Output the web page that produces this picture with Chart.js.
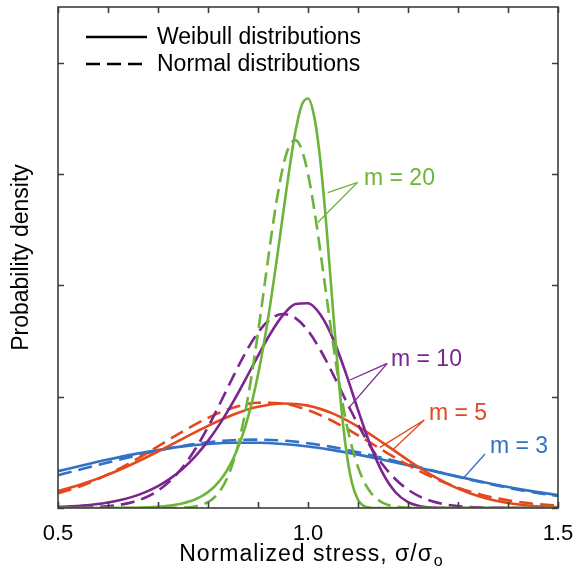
<!DOCTYPE html>
<html lang="en">
<head>
<meta charset="UTF-8">
<title>Weibull and normal strength distributions</title>
<script src="https://cdn.jsdelivr.net/npm/chart.js"></script>
<style>
  html, body { margin: 0; padding: 0; background: #fff; }
  #wrap { width: 576px; height: 575px; }
</style>
</head>
<body>
<div id="wrap"><canvas id="pdfChart" width="576" height="575"></canvas></div>
<script>
// normalized stress grids (sigma / sigma_o)
const stressCoarse = [0.50, 0.55, 0.60, 0.65, 0.70, 0.75, 0.80, 0.85, 0.90, 0.95, 1.00,
                      1.05, 1.10, 1.15, 1.20, 1.25, 1.30, 1.35, 1.40, 1.45, 1.50];
const stressMid = [0.500, 0.525, 0.550, 0.575, 0.600, 0.625, 0.650, 0.675, 0.700, 0.725,
                   0.750, 0.775, 0.800, 0.825, 0.850, 0.875, 0.900, 0.925, 0.950, 0.975,
                   1.000, 1.025, 1.050, 1.075, 1.100, 1.125, 1.150, 1.175, 1.200, 1.225,
                   1.250, 1.275, 1.300, 1.325, 1.350, 1.375, 1.400, 1.425, 1.450, 1.475, 1.500];
const stressFine = [0.50, 0.60, 0.65,
                    0.7000, 0.7125, 0.7250, 0.7375, 0.7500, 0.7625, 0.7750, 0.7875, 0.8000, 0.8125,
                    0.8250, 0.8375, 0.8500, 0.8625, 0.8750, 0.8875, 0.9000, 0.9125, 0.9250, 0.9375,
                    0.9500, 0.9625, 0.9750, 0.9875, 1.0000, 1.0125, 1.0250, 1.0375, 1.0500, 1.0625,
                    1.0750, 1.0875, 1.1000, 1.1125, 1.1250, 1.1375, 1.1500, 1.1625, 1.1750, 1.1875, 1.2000,
                    1.25, 1.30, 1.40, 1.50];

// probability density, m = 3 (on stressCoarse)
const weibull3 = [0.6619, 0.7684, 0.8702, 0.9632, 1.0431, 1.1067, 1.1507, 1.1728, 1.1723, 1.1488, 1.1036,
                  1.0392, 0.9590, 0.8669, 0.7672, 0.6647, 0.5633, 0.4670, 0.3781, 0.2992, 0.2310];
const normal3 = [0.5905, 0.7033, 0.8178, 0.9286, 1.0299, 1.1153, 1.1796, 1.2183, 1.2287, 1.2102, 1.1640,
                 1.0933, 1.0029, 0.8984, 0.7858, 0.6713, 0.5601, 0.4562, 0.3629, 0.2819, 0.2140];

// m = 5 (on stressCoarse)
const weibull5 = [0.3029, 0.4351, 0.5995, 0.7948, 1.0148, 1.2479, 1.4758, 1.6748, 1.8176, 1.8785, 1.8394,
                  1.6961, 1.4624, 1.1702, 0.8611, 0.5772, 0.3486, 0.1875, 0.0887, 0.0364, 0.0127];
const normal5 = [0.2626, 0.4097, 0.6038, 0.8411, 1.1074, 1.3777, 1.6198, 1.7998, 1.8899, 1.8754, 1.7588,
                 1.5587, 1.3055, 1.0333, 0.7729, 0.5464, 0.3650, 0.2305, 0.1375, 0.0775, 0.0413];

// m = 10 (on stressMid)
const weibull10 = [0.0195, 0.0302, 0.0459, 0.0684, 0.1002, 0.1442, 0.2044, 0.2852, 0.3923, 0.5317,
                   0.7097, 0.9328, 1.2055, 1.5297, 1.9022, 2.3111, 2.7338, 3.1342, 3.4632, 3.6634,
                   3.6788, 3.4720, 3.0430, 2.4411, 1.7623, 1.1222, 0.6156, 0.2830, 0.1056, 0.0308,
                   0.0067, 0.0010, 0.0001, 0, 0, 0, 0, 0, 0, 0, 0];
const normal10 = [0.0015, 0.0034, 0.0075, 0.0157, 0.0313, 0.0598, 0.1089, 0.1890, 0.3127, 0.4933,
                  0.7419, 1.0636, 1.4540, 1.8952, 2.3550, 2.7901, 3.1517, 3.3943, 3.4852, 3.4118,
                  3.1844, 2.8336, 2.4041, 1.9447, 1.4997, 1.1027, 0.7730, 0.5166, 0.3292, 0.2000,
                  0.1159, 0.0640, 0.0337, 0.0169, 0.0081, 0.0037, 0.0016, 0.0007, 0.0003, 0.0001, 0];

// m = 20 (on stressFine)
const weibull20 = [0, 0.0012, 0.0056,
                   0.0228, 0.0319, 0.0443, 0.0613, 0.0843, 0.1153, 0.1567, 0.2119, 0.2849, 0.3810,
                   0.5062, 0.6687, 0.8773, 1.1426, 1.4760, 1.8893, 2.3924, 2.9916, 3.6847, 4.4568,
                   5.2735, 6.0736, 6.7666, 7.2368, 7.3576, 7.0268, 6.2108, 4.9883, 3.5588, 2.1940,
                   1.1297, 0.4661, 0.1465, 0.0330, 0.0049, 0.0005, 0, 0, 0, 0, 0,
                   0, 0, 0, 0];
const normal20 = [0, 0, 0,
                  0.0002, 0.0006, 0.0014, 0.0032, 0.0069, 0.0146, 0.0295, 0.0571, 0.1059, 0.1881,
                  0.3200, 0.5214, 0.8141, 1.2176, 1.7445, 2.3943, 3.1485, 3.9663, 4.7862, 5.5336,
                  6.1286, 6.5024, 6.6094, 6.4358, 6.0036, 5.3652, 4.5932, 3.7672, 2.9598, 2.2280,
                  1.6065, 1.1097, 0.7344, 0.4656, 0.2828, 0.1645, 0.0917, 0.0490, 0.0250, 0.0123, 0.0058,
                  0.0002, 0, 0, 0];

const GREEN = '#6cb43a';
const PURPLE = '#7a2590';
const RED = '#e4481f';
const BLUE = '#3271c4';
const FONT = '"Liberation Sans", Arial, Helvetica, sans-serif';
const DASH = [14, 7];

function pts(xs, ys) {
  return xs.map((x, i) => ({ x: x, y: ys[i] }));
}

function curve(label, xs, ys, color, dashed) {
  return {
    label: label,
    data: pts(xs, ys),
    borderColor: color,
    borderWidth: 2.6,
    borderDash: dashed ? DASH : [],
    pointRadius: 0,
    fill: false,
    cubicInterpolationMode: 'monotone'
  };
}

// leader-line labels, positions in data units
const notes = [
  { text: 'm = 20', color: GREEN, at: [1.112, 5.92], apex: [1.0994, 5.851], ends: [[1.0394, 5.664], [1.0194, 5.130]] },
  { text: 'm = 10', color: PURPLE, at: [1.166, 2.664], apex: [1.1586, 2.599], ends: [[1.084, 2.299], [1.0806, 1.791]] },
  { text: 'm = 5', color: RED, at: [1.242, 1.689], apex: [1.2326, 1.581], ends: [[1.144, 1.090], [1.1706, 1.054]] },
  { text: 'm = 3', color: BLUE, at: [1.364, 1.096], apex: [1.354, 0.970], ends: [[1.3106, 0.534]] }
];

const legendItems = [
  { text: 'Weibull distributions', dash: [] },
  { text: 'Normal distributions', dash: DASH }
];

const decorPlugin = {
  id: 'decor',
  afterDatasetsDraw(chart) {
    const { ctx, chartArea: a, scales } = chart;
    const x = scales.x, y = scales.y;
    ctx.save();

    // axes box with inward ticks
    ctx.strokeStyle = '#3d3d3d';
    ctx.lineWidth = 1.6;
    ctx.setLineDash([]);
    ctx.strokeRect(a.left, a.top, a.right - a.left, a.bottom - a.top);
    ctx.beginPath();
    x.ticks.forEach(t => {
      const px = Math.round(x.getPixelForValue(t.value)) + 0.5;
      ctx.moveTo(px, a.bottom); ctx.lineTo(px, a.bottom - 6);
      ctx.moveTo(px, a.top); ctx.lineTo(px, a.top + 6);
    });
    y.ticks.forEach(t => {
      if (t.value % 2 !== 0) return;
      const py = Math.round(y.getPixelForValue(t.value)) + 0.5;
      ctx.moveTo(a.left, py); ctx.lineTo(a.left + 6, py);
      ctx.moveTo(a.right, py); ctx.lineTo(a.right - 6, py);
    });
    ctx.stroke();

    // legend
    ctx.font = '23px ' + FONT;
    ctx.textBaseline = 'middle';
    ctx.textAlign = 'left';
    legendItems.forEach((item, i) => {
      const ly = a.top + 30 + i * 27;
      ctx.strokeStyle = '#000';
      ctx.lineWidth = 2.6;
      ctx.setLineDash(item.dash);
      ctx.beginPath();
      ctx.moveTo(a.left + 28, ly);
      ctx.lineTo(a.left + 89, ly);
      ctx.stroke();
      ctx.fillStyle = '#000';
      ctx.fillText(item.text, a.left + 99, ly + 1);
    });
    ctx.setLineDash([]);

    // curve labels with leader lines
    notes.forEach(n => {
      const ax = x.getPixelForValue(n.apex[0]), ay = y.getPixelForValue(n.apex[1]);
      ctx.strokeStyle = n.color;
      ctx.lineWidth = 1.3;
      ctx.beginPath();
      n.ends.forEach(e => {
        ctx.moveTo(ax, ay);
        ctx.lineTo(x.getPixelForValue(e[0]), y.getPixelForValue(e[1]));
      });
      ctx.stroke();
      ctx.fillStyle = n.color;
      ctx.fillText(n.text, x.getPixelForValue(n.at[0]), y.getPixelForValue(n.at[1]));
    });

    // x axis title with subscript
    const main = 'Normalized stress, \u03c3/\u03c3';
    ctx.letterSpacing = '1px';
    ctx.font = '23px ' + FONT;
    const w1 = ctx.measureText(main).width;
    ctx.font = '16px ' + FONT;
    const w2 = ctx.measureText('o').width;
    const tx = (a.left + a.right) / 2 - (w1 + w2) / 2 + 3;
    const ty = a.bottom + 53;
    ctx.fillStyle = '#000';
    ctx.textBaseline = 'alphabetic';
    ctx.font = '23px ' + FONT;
    ctx.fillText(main, tx, ty);
    ctx.font = '16px ' + FONT;
    ctx.fillText('o', tx + w1 + 1, ty + 5);
    ctx.letterSpacing = '0px';

    ctx.restore();
  }
};

new Chart(document.getElementById('pdfChart').getContext('2d'), {
  type: 'line',
  data: {
    datasets: [
      curve('Weibull, m = 20', stressFine, weibull20, GREEN, false),
      curve('Normal, m = 20', stressFine, normal20, GREEN, true),
      curve('Weibull, m = 10', stressMid, weibull10, PURPLE, false),
      curve('Normal, m = 10', stressMid, normal10, PURPLE, true),
      curve('Weibull, m = 5', stressCoarse, weibull5, RED, false),
      curve('Normal, m = 5', stressCoarse, normal5, RED, true),
      curve('Weibull, m = 3', stressCoarse, weibull3, BLUE, false),
      curve('Normal, m = 3', stressCoarse, normal3, BLUE, true)
    ]
  },
  options: {
    responsive: false,
    animation: false,
    devicePixelRatio: 1,
    layout: { padding: { top: 7, right: 18, left: 0, bottom: 0 } },
    plugins: {
      legend: { display: false },
      tooltip: { enabled: false }
    },
    scales: {
      x: {
        type: 'linear',
        min: 0.5,
        max: 1.5,
        grid: { display: false, drawTicks: false },
        border: { display: false },
        ticks: {
          stepSize: 0.1,
          autoSkip: false,
          maxRotation: 0,
          padding: 13,
          color: '#000',
          font: { family: FONT, size: 22 },
          callback: function(value) {
            const v = Math.round(value * 10) / 10;
            return (Math.round(v * 10) % 5 === 0) ? v.toFixed(1) : '';
          }
        },
        afterFit: function(scale) {
          scale.height = 67;
          scale.paddingLeft = 0;
          scale.paddingRight = 0;
        }
      },
      y: {
        min: 0,
        max: 9,
        grid: { display: false, drawTicks: false },
        border: { display: false },
        ticks: { display: false, stepSize: 1 },
        title: {
          display: true,
          text: 'Probability density',
          color: '#000',
          font: { family: FONT, size: 23 },
          padding: { top: 8, bottom: 0 }
        },
        afterFit: function(scale) { scale.width = 58; }
      }
    }
  },
  plugins: [decorPlugin]
});
</script>
</body>
</html>
